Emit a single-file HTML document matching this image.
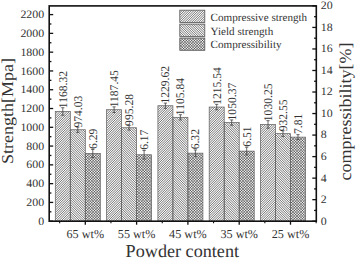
<!DOCTYPE html>
<html><head><meta charset="utf-8"><style>
html,body{margin:0;padding:0;background:#fff;width:357px;height:259px;overflow:hidden}
svg{display:block}
text{font-family:"Liberation Serif",serif;text-rendering:geometricPrecision}
</style></head><body>
<svg width="357" height="259" viewBox="0 0 357 259">
<defs><pattern id="pK" patternUnits="userSpaceOnUse" x="0" y="0" width="2.7" height="2.7"><rect width="2.7" height="2.7" fill="#e8e8e8"/><rect width="1.35" height="1.35" fill="#7a7a7a"/><rect x="1.35" y="1.35" width="1.35" height="1.35" fill="#7a7a7a"/></pattern><pattern id="pC" patternUnits="userSpaceOnUse" width="2" height="2"><rect width="2" height="2" fill="#a4a4a4"/><rect width="1" height="1" fill="#6a6a6a"/><rect x="1" y="1" width="1" height="1" fill="#e4e4e4"/></pattern><clipPath id="cA"><rect x="55.30" y="111.48" width="15.00" height="109.72"/><rect x="106.60" y="109.69" width="15.00" height="111.51"/><rect x="157.90" y="105.73" width="15.00" height="115.47"/><rect x="209.20" y="107.05" width="15.00" height="114.15"/><rect x="260.50" y="124.45" width="15.00" height="96.75"/><rect x="179.80" y="10.20" width="25.00" height="12.30"/></clipPath><clipPath id="cB"><rect x="70.30" y="129.73" width="15.00" height="91.47"/><rect x="121.60" y="127.73" width="15.00" height="93.47"/><rect x="172.90" y="117.35" width="15.00" height="103.85"/><rect x="224.20" y="122.56" width="15.00" height="98.64"/><rect x="275.50" y="133.63" width="15.00" height="87.57"/><rect x="179.80" y="24.10" width="25.00" height="12.30"/></clipPath><clipPath id="cC"><rect x="85.30" y="153.49" width="15.00" height="67.71"/><rect x="136.60" y="154.78" width="15.00" height="66.42"/><rect x="187.90" y="153.17" width="15.00" height="68.03"/><rect x="239.20" y="151.12" width="15.00" height="70.08"/><rect x="290.50" y="137.13" width="15.00" height="84.07"/><rect x="179.80" y="38.00" width="25.00" height="12.30"/></clipPath></defs>
<rect width="357" height="259" fill="#fff"/>
<g clip-path="url(#cA)"><rect x="50" y="5" width="266" height="217" fill="#fafafa"/><path d="M-168.95,223.00L50.05,4.00M-166.60,223.00L52.40,4.00M-164.25,223.00L54.75,4.00M-161.90,223.00L57.10,4.00M-159.55,223.00L59.45,4.00M-157.20,223.00L61.80,4.00M-154.85,223.00L64.15,4.00M-152.50,223.00L66.50,4.00M-150.15,223.00L68.85,4.00M-147.80,223.00L71.20,4.00M-145.45,223.00L73.55,4.00M-143.10,223.00L75.90,4.00M-140.75,223.00L78.25,4.00M-138.40,223.00L80.60,4.00M-136.05,223.00L82.95,4.00M-133.70,223.00L85.30,4.00M-131.35,223.00L87.65,4.00M-129.00,223.00L90.00,4.00M-126.65,223.00L92.35,4.00M-124.30,223.00L94.70,4.00M-121.95,223.00L97.05,4.00M-119.60,223.00L99.40,4.00M-117.25,223.00L101.75,4.00M-114.90,223.00L104.10,4.00M-112.55,223.00L106.45,4.00M-110.20,223.00L108.80,4.00M-107.85,223.00L111.15,4.00M-105.50,223.00L113.50,4.00M-103.15,223.00L115.85,4.00M-100.80,223.00L118.20,4.00M-98.45,223.00L120.55,4.00M-96.10,223.00L122.90,4.00M-93.75,223.00L125.25,4.00M-91.40,223.00L127.60,4.00M-89.05,223.00L129.95,4.00M-86.70,223.00L132.30,4.00M-84.35,223.00L134.65,4.00M-82.00,223.00L137.00,4.00M-79.65,223.00L139.35,4.00M-77.30,223.00L141.70,4.00M-74.95,223.00L144.05,4.00M-72.60,223.00L146.40,4.00M-70.25,223.00L148.75,4.00M-67.90,223.00L151.10,4.00M-65.55,223.00L153.45,4.00M-63.20,223.00L155.80,4.00M-60.85,223.00L158.15,4.00M-58.50,223.00L160.50,4.00M-56.15,223.00L162.85,4.00M-53.80,223.00L165.20,4.00M-51.45,223.00L167.55,4.00M-49.10,223.00L169.90,4.00M-46.75,223.00L172.25,4.00M-44.40,223.00L174.60,4.00M-42.05,223.00L176.95,4.00M-39.70,223.00L179.30,4.00M-37.35,223.00L181.65,4.00M-35.00,223.00L184.00,4.00M-32.65,223.00L186.35,4.00M-30.30,223.00L188.70,4.00M-27.95,223.00L191.05,4.00M-25.60,223.00L193.40,4.00M-23.25,223.00L195.75,4.00M-20.90,223.00L198.10,4.00M-18.55,223.00L200.45,4.00M-16.20,223.00L202.80,4.00M-13.85,223.00L205.15,4.00M-11.50,223.00L207.50,4.00M-9.15,223.00L209.85,4.00M-6.80,223.00L212.20,4.00M-4.45,223.00L214.55,4.00M-2.10,223.00L216.90,4.00M0.25,223.00L219.25,4.00M2.60,223.00L221.60,4.00M4.95,223.00L223.95,4.00M7.30,223.00L226.30,4.00M9.65,223.00L228.65,4.00M12.00,223.00L231.00,4.00M14.35,223.00L233.35,4.00M16.70,223.00L235.70,4.00M19.05,223.00L238.05,4.00M21.40,223.00L240.40,4.00M23.75,223.00L242.75,4.00M26.10,223.00L245.10,4.00M28.45,223.00L247.45,4.00M30.80,223.00L249.80,4.00M33.15,223.00L252.15,4.00M35.50,223.00L254.50,4.00M37.85,223.00L256.85,4.00M40.20,223.00L259.20,4.00M42.55,223.00L261.55,4.00M44.90,223.00L263.90,4.00M47.25,223.00L266.25,4.00M49.60,223.00L268.60,4.00M51.95,223.00L270.95,4.00M54.30,223.00L273.30,4.00M56.65,223.00L275.65,4.00M59.00,223.00L278.00,4.00M61.35,223.00L280.35,4.00M63.70,223.00L282.70,4.00M66.05,223.00L285.05,4.00M68.40,223.00L287.40,4.00M70.75,223.00L289.75,4.00M73.10,223.00L292.10,4.00M75.45,223.00L294.45,4.00M77.80,223.00L296.80,4.00M80.15,223.00L299.15,4.00M82.50,223.00L301.50,4.00M84.85,223.00L303.85,4.00M87.20,223.00L306.20,4.00M89.55,223.00L308.55,4.00M91.90,223.00L310.90,4.00M94.25,223.00L313.25,4.00M96.60,223.00L315.60,4.00M98.95,223.00L317.95,4.00M101.30,223.00L320.30,4.00M103.65,223.00L322.65,4.00M106.00,223.00L325.00,4.00M108.35,223.00L327.35,4.00M110.70,223.00L329.70,4.00M113.05,223.00L332.05,4.00M115.40,223.00L334.40,4.00M117.75,223.00L336.75,4.00M120.10,223.00L339.10,4.00M122.45,223.00L341.45,4.00M124.80,223.00L343.80,4.00M127.15,223.00L346.15,4.00M129.50,223.00L348.50,4.00M131.85,223.00L350.85,4.00M134.20,223.00L353.20,4.00M136.55,223.00L355.55,4.00M138.90,223.00L357.90,4.00M141.25,223.00L360.25,4.00M143.60,223.00L362.60,4.00M145.95,223.00L364.95,4.00M148.30,223.00L367.30,4.00M150.65,223.00L369.65,4.00M153.00,223.00L372.00,4.00M155.35,223.00L374.35,4.00M157.70,223.00L376.70,4.00M160.05,223.00L379.05,4.00M162.40,223.00L381.40,4.00M164.75,223.00L383.75,4.00M167.10,223.00L386.10,4.00M169.45,223.00L388.45,4.00M171.80,223.00L390.80,4.00M174.15,223.00L393.15,4.00M176.50,223.00L395.50,4.00M178.85,223.00L397.85,4.00M181.20,223.00L400.20,4.00M183.55,223.00L402.55,4.00M185.90,223.00L404.90,4.00M188.25,223.00L407.25,4.00M190.60,223.00L409.60,4.00M192.95,223.00L411.95,4.00M195.30,223.00L414.30,4.00M197.65,223.00L416.65,4.00M200.00,223.00L419.00,4.00M202.35,223.00L421.35,4.00M204.70,223.00L423.70,4.00M207.05,223.00L426.05,4.00M209.40,223.00L428.40,4.00M211.75,223.00L430.75,4.00M214.10,223.00L433.10,4.00M216.45,223.00L435.45,4.00M218.80,223.00L437.80,4.00M221.15,223.00L440.15,4.00M223.50,223.00L442.50,4.00M225.85,223.00L444.85,4.00M228.20,223.00L447.20,4.00M230.55,223.00L449.55,4.00M232.90,223.00L451.90,4.00M235.25,223.00L454.25,4.00M237.60,223.00L456.60,4.00M239.95,223.00L458.95,4.00M242.30,223.00L461.30,4.00M244.65,223.00L463.65,4.00M247.00,223.00L466.00,4.00M249.35,223.00L468.35,4.00M251.70,223.00L470.70,4.00M254.05,223.00L473.05,4.00M256.40,223.00L475.40,4.00M258.75,223.00L477.75,4.00M261.10,223.00L480.10,4.00M263.45,223.00L482.45,4.00M265.80,223.00L484.80,4.00M268.15,223.00L487.15,4.00M270.50,223.00L489.50,4.00M272.85,223.00L491.85,4.00M275.20,223.00L494.20,4.00M277.55,223.00L496.55,4.00M279.90,223.00L498.90,4.00M282.25,223.00L501.25,4.00M284.60,223.00L503.60,4.00M286.95,223.00L505.95,4.00M289.30,223.00L508.30,4.00M291.65,223.00L510.65,4.00M294.00,223.00L513.00,4.00M296.35,223.00L515.35,4.00M298.70,223.00L517.70,4.00M301.05,223.00L520.05,4.00M303.40,223.00L522.40,4.00M305.75,223.00L524.75,4.00M308.10,223.00L527.10,4.00M310.45,223.00L529.45,4.00M312.80,223.00L531.80,4.00M315.15,223.00L534.15,4.00" stroke="#555555" stroke-width="0.8" fill="none"/></g>
<g clip-path="url(#cB)"><rect x="50" y="5" width="266" height="217" fill="#fafafa"/><path d="M-169.90,4.00L49.10,223.00M-167.55,4.00L51.45,223.00M-165.20,4.00L53.80,223.00M-162.85,4.00L56.15,223.00M-160.50,4.00L58.50,223.00M-158.15,4.00L60.85,223.00M-155.80,4.00L63.20,223.00M-153.45,4.00L65.55,223.00M-151.10,4.00L67.90,223.00M-148.75,4.00L70.25,223.00M-146.40,4.00L72.60,223.00M-144.05,4.00L74.95,223.00M-141.70,4.00L77.30,223.00M-139.35,4.00L79.65,223.00M-137.00,4.00L82.00,223.00M-134.65,4.00L84.35,223.00M-132.30,4.00L86.70,223.00M-129.95,4.00L89.05,223.00M-127.60,4.00L91.40,223.00M-125.25,4.00L93.75,223.00M-122.90,4.00L96.10,223.00M-120.55,4.00L98.45,223.00M-118.20,4.00L100.80,223.00M-115.85,4.00L103.15,223.00M-113.50,4.00L105.50,223.00M-111.15,4.00L107.85,223.00M-108.80,4.00L110.20,223.00M-106.45,4.00L112.55,223.00M-104.10,4.00L114.90,223.00M-101.75,4.00L117.25,223.00M-99.40,4.00L119.60,223.00M-97.05,4.00L121.95,223.00M-94.70,4.00L124.30,223.00M-92.35,4.00L126.65,223.00M-90.00,4.00L129.00,223.00M-87.65,4.00L131.35,223.00M-85.30,4.00L133.70,223.00M-82.95,4.00L136.05,223.00M-80.60,4.00L138.40,223.00M-78.25,4.00L140.75,223.00M-75.90,4.00L143.10,223.00M-73.55,4.00L145.45,223.00M-71.20,4.00L147.80,223.00M-68.85,4.00L150.15,223.00M-66.50,4.00L152.50,223.00M-64.15,4.00L154.85,223.00M-61.80,4.00L157.20,223.00M-59.45,4.00L159.55,223.00M-57.10,4.00L161.90,223.00M-54.75,4.00L164.25,223.00M-52.40,4.00L166.60,223.00M-50.05,4.00L168.95,223.00M-47.70,4.00L171.30,223.00M-45.35,4.00L173.65,223.00M-43.00,4.00L176.00,223.00M-40.65,4.00L178.35,223.00M-38.30,4.00L180.70,223.00M-35.95,4.00L183.05,223.00M-33.60,4.00L185.40,223.00M-31.25,4.00L187.75,223.00M-28.90,4.00L190.10,223.00M-26.55,4.00L192.45,223.00M-24.20,4.00L194.80,223.00M-21.85,4.00L197.15,223.00M-19.50,4.00L199.50,223.00M-17.15,4.00L201.85,223.00M-14.80,4.00L204.20,223.00M-12.45,4.00L206.55,223.00M-10.10,4.00L208.90,223.00M-7.75,4.00L211.25,223.00M-5.40,4.00L213.60,223.00M-3.05,4.00L215.95,223.00M-0.70,4.00L218.30,223.00M1.65,4.00L220.65,223.00M4.00,4.00L223.00,223.00M6.35,4.00L225.35,223.00M8.70,4.00L227.70,223.00M11.05,4.00L230.05,223.00M13.40,4.00L232.40,223.00M15.75,4.00L234.75,223.00M18.10,4.00L237.10,223.00M20.45,4.00L239.45,223.00M22.80,4.00L241.80,223.00M25.15,4.00L244.15,223.00M27.50,4.00L246.50,223.00M29.85,4.00L248.85,223.00M32.20,4.00L251.20,223.00M34.55,4.00L253.55,223.00M36.90,4.00L255.90,223.00M39.25,4.00L258.25,223.00M41.60,4.00L260.60,223.00M43.95,4.00L262.95,223.00M46.30,4.00L265.30,223.00M48.65,4.00L267.65,223.00M51.00,4.00L270.00,223.00M53.35,4.00L272.35,223.00M55.70,4.00L274.70,223.00M58.05,4.00L277.05,223.00M60.40,4.00L279.40,223.00M62.75,4.00L281.75,223.00M65.10,4.00L284.10,223.00M67.45,4.00L286.45,223.00M69.80,4.00L288.80,223.00M72.15,4.00L291.15,223.00M74.50,4.00L293.50,223.00M76.85,4.00L295.85,223.00M79.20,4.00L298.20,223.00M81.55,4.00L300.55,223.00M83.90,4.00L302.90,223.00M86.25,4.00L305.25,223.00M88.60,4.00L307.60,223.00M90.95,4.00L309.95,223.00M93.30,4.00L312.30,223.00M95.65,4.00L314.65,223.00M98.00,4.00L317.00,223.00M100.35,4.00L319.35,223.00M102.70,4.00L321.70,223.00M105.05,4.00L324.05,223.00M107.40,4.00L326.40,223.00M109.75,4.00L328.75,223.00M112.10,4.00L331.10,223.00M114.45,4.00L333.45,223.00M116.80,4.00L335.80,223.00M119.15,4.00L338.15,223.00M121.50,4.00L340.50,223.00M123.85,4.00L342.85,223.00M126.20,4.00L345.20,223.00M128.55,4.00L347.55,223.00M130.90,4.00L349.90,223.00M133.25,4.00L352.25,223.00M135.60,4.00L354.60,223.00M137.95,4.00L356.95,223.00M140.30,4.00L359.30,223.00M142.65,4.00L361.65,223.00M145.00,4.00L364.00,223.00M147.35,4.00L366.35,223.00M149.70,4.00L368.70,223.00M152.05,4.00L371.05,223.00M154.40,4.00L373.40,223.00M156.75,4.00L375.75,223.00M159.10,4.00L378.10,223.00M161.45,4.00L380.45,223.00M163.80,4.00L382.80,223.00M166.15,4.00L385.15,223.00M168.50,4.00L387.50,223.00M170.85,4.00L389.85,223.00M173.20,4.00L392.20,223.00M175.55,4.00L394.55,223.00M177.90,4.00L396.90,223.00M180.25,4.00L399.25,223.00M182.60,4.00L401.60,223.00M184.95,4.00L403.95,223.00M187.30,4.00L406.30,223.00M189.65,4.00L408.65,223.00M192.00,4.00L411.00,223.00M194.35,4.00L413.35,223.00M196.70,4.00L415.70,223.00M199.05,4.00L418.05,223.00M201.40,4.00L420.40,223.00M203.75,4.00L422.75,223.00M206.10,4.00L425.10,223.00M208.45,4.00L427.45,223.00M210.80,4.00L429.80,223.00M213.15,4.00L432.15,223.00M215.50,4.00L434.50,223.00M217.85,4.00L436.85,223.00M220.20,4.00L439.20,223.00M222.55,4.00L441.55,223.00M224.90,4.00L443.90,223.00M227.25,4.00L446.25,223.00M229.60,4.00L448.60,223.00M231.95,4.00L450.95,223.00M234.30,4.00L453.30,223.00M236.65,4.00L455.65,223.00M239.00,4.00L458.00,223.00M241.35,4.00L460.35,223.00M243.70,4.00L462.70,223.00M246.05,4.00L465.05,223.00M248.40,4.00L467.40,223.00M250.75,4.00L469.75,223.00M253.10,4.00L472.10,223.00M255.45,4.00L474.45,223.00M257.80,4.00L476.80,223.00M260.15,4.00L479.15,223.00M262.50,4.00L481.50,223.00M264.85,4.00L483.85,223.00M267.20,4.00L486.20,223.00M269.55,4.00L488.55,223.00M271.90,4.00L490.90,223.00M274.25,4.00L493.25,223.00M276.60,4.00L495.60,223.00M278.95,4.00L497.95,223.00M281.30,4.00L500.30,223.00M283.65,4.00L502.65,223.00M286.00,4.00L505.00,223.00M288.35,4.00L507.35,223.00M290.70,4.00L509.70,223.00M293.05,4.00L512.05,223.00M295.40,4.00L514.40,223.00M297.75,4.00L516.75,223.00M300.10,4.00L519.10,223.00M302.45,4.00L521.45,223.00M304.80,4.00L523.80,223.00M307.15,4.00L526.15,223.00M309.50,4.00L528.50,223.00M311.85,4.00L530.85,223.00M314.20,4.00L533.20,223.00M316.55,4.00L535.55,223.00" stroke="#555555" stroke-width="0.8" fill="none"/></g>
<g clip-path="url(#cC)"><rect x="48" y="4" width="270" height="220" fill="#f0f0f0"/><path d="M-169.00,223.00L50.00,4.00M-166.30,223.00L52.70,4.00M-163.60,223.00L55.40,4.00M-160.90,223.00L58.10,4.00M-158.20,223.00L60.80,4.00M-155.50,223.00L63.50,4.00M-152.80,223.00L66.20,4.00M-150.10,223.00L68.90,4.00M-147.40,223.00L71.60,4.00M-144.70,223.00L74.30,4.00M-142.00,223.00L77.00,4.00M-139.30,223.00L79.70,4.00M-136.60,223.00L82.40,4.00M-133.90,223.00L85.10,4.00M-131.20,223.00L87.80,4.00M-128.50,223.00L90.50,4.00M-125.80,223.00L93.20,4.00M-123.10,223.00L95.90,4.00M-120.40,223.00L98.60,4.00M-117.70,223.00L101.30,4.00M-115.00,223.00L104.00,4.00M-112.30,223.00L106.70,4.00M-109.60,223.00L109.40,4.00M-106.90,223.00L112.10,4.00M-104.20,223.00L114.80,4.00M-101.50,223.00L117.50,4.00M-98.80,223.00L120.20,4.00M-96.10,223.00L122.90,4.00M-93.40,223.00L125.60,4.00M-90.70,223.00L128.30,4.00M-88.00,223.00L131.00,4.00M-85.30,223.00L133.70,4.00M-82.60,223.00L136.40,4.00M-79.90,223.00L139.10,4.00M-77.20,223.00L141.80,4.00M-74.50,223.00L144.50,4.00M-71.80,223.00L147.20,4.00M-69.10,223.00L149.90,4.00M-66.40,223.00L152.60,4.00M-63.70,223.00L155.30,4.00M-61.00,223.00L158.00,4.00M-58.30,223.00L160.70,4.00M-55.60,223.00L163.40,4.00M-52.90,223.00L166.10,4.00M-50.20,223.00L168.80,4.00M-47.50,223.00L171.50,4.00M-44.80,223.00L174.20,4.00M-42.10,223.00L176.90,4.00M-39.40,223.00L179.60,4.00M-36.70,223.00L182.30,4.00M-34.00,223.00L185.00,4.00M-31.30,223.00L187.70,4.00M-28.60,223.00L190.40,4.00M-25.90,223.00L193.10,4.00M-23.20,223.00L195.80,4.00M-20.50,223.00L198.50,4.00M-17.80,223.00L201.20,4.00M-15.10,223.00L203.90,4.00M-12.40,223.00L206.60,4.00M-9.70,223.00L209.30,4.00M-7.00,223.00L212.00,4.00M-4.30,223.00L214.70,4.00M-1.60,223.00L217.40,4.00M1.10,223.00L220.10,4.00M3.80,223.00L222.80,4.00M6.50,223.00L225.50,4.00M9.20,223.00L228.20,4.00M11.90,223.00L230.90,4.00M14.60,223.00L233.60,4.00M17.30,223.00L236.30,4.00M20.00,223.00L239.00,4.00M22.70,223.00L241.70,4.00M25.40,223.00L244.40,4.00M28.10,223.00L247.10,4.00M30.80,223.00L249.80,4.00M33.50,223.00L252.50,4.00M36.20,223.00L255.20,4.00M38.90,223.00L257.90,4.00M41.60,223.00L260.60,4.00M44.30,223.00L263.30,4.00M47.00,223.00L266.00,4.00M49.70,223.00L268.70,4.00M52.40,223.00L271.40,4.00M55.10,223.00L274.10,4.00M57.80,223.00L276.80,4.00M60.50,223.00L279.50,4.00M63.20,223.00L282.20,4.00M65.90,223.00L284.90,4.00M68.60,223.00L287.60,4.00M71.30,223.00L290.30,4.00M74.00,223.00L293.00,4.00M76.70,223.00L295.70,4.00M79.40,223.00L298.40,4.00M82.10,223.00L301.10,4.00M84.80,223.00L303.80,4.00M87.50,223.00L306.50,4.00M90.20,223.00L309.20,4.00M92.90,223.00L311.90,4.00M95.60,223.00L314.60,4.00M98.30,223.00L317.30,4.00M101.00,223.00L320.00,4.00M103.70,223.00L322.70,4.00M106.40,223.00L325.40,4.00M109.10,223.00L328.10,4.00M111.80,223.00L330.80,4.00M114.50,223.00L333.50,4.00M117.20,223.00L336.20,4.00M119.90,223.00L338.90,4.00M122.60,223.00L341.60,4.00M125.30,223.00L344.30,4.00M128.00,223.00L347.00,4.00M130.70,223.00L349.70,4.00M133.40,223.00L352.40,4.00M136.10,223.00L355.10,4.00M138.80,223.00L357.80,4.00M141.50,223.00L360.50,4.00M144.20,223.00L363.20,4.00M146.90,223.00L365.90,4.00M149.60,223.00L368.60,4.00M152.30,223.00L371.30,4.00M155.00,223.00L374.00,4.00M157.70,223.00L376.70,4.00M160.40,223.00L379.40,4.00M163.10,223.00L382.10,4.00M165.80,223.00L384.80,4.00M168.50,223.00L387.50,4.00M171.20,223.00L390.20,4.00M173.90,223.00L392.90,4.00M176.60,223.00L395.60,4.00M179.30,223.00L398.30,4.00M182.00,223.00L401.00,4.00M184.70,223.00L403.70,4.00M187.40,223.00L406.40,4.00M190.10,223.00L409.10,4.00M192.80,223.00L411.80,4.00M195.50,223.00L414.50,4.00M198.20,223.00L417.20,4.00M200.90,223.00L419.90,4.00M203.60,223.00L422.60,4.00M206.30,223.00L425.30,4.00M209.00,223.00L428.00,4.00M211.70,223.00L430.70,4.00M214.40,223.00L433.40,4.00M217.10,223.00L436.10,4.00M219.80,223.00L438.80,4.00M222.50,223.00L441.50,4.00M225.20,223.00L444.20,4.00M227.90,223.00L446.90,4.00M230.60,223.00L449.60,4.00M233.30,223.00L452.30,4.00M236.00,223.00L455.00,4.00M238.70,223.00L457.70,4.00M241.40,223.00L460.40,4.00M244.10,223.00L463.10,4.00M246.80,223.00L465.80,4.00M249.50,223.00L468.50,4.00M252.20,223.00L471.20,4.00M254.90,223.00L473.90,4.00M257.60,223.00L476.60,4.00M260.30,223.00L479.30,4.00M263.00,223.00L482.00,4.00M265.70,223.00L484.70,4.00M268.40,223.00L487.40,4.00M271.10,223.00L490.10,4.00M273.80,223.00L492.80,4.00M276.50,223.00L495.50,4.00M279.20,223.00L498.20,4.00M281.90,223.00L500.90,4.00M284.60,223.00L503.60,4.00M287.30,223.00L506.30,4.00M290.00,223.00L509.00,4.00M292.70,223.00L511.70,4.00M295.40,223.00L514.40,4.00M298.10,223.00L517.10,4.00M300.80,223.00L519.80,4.00M303.50,223.00L522.50,4.00M306.20,223.00L525.20,4.00M308.90,223.00L527.90,4.00M311.60,223.00L530.60,4.00M314.30,223.00L533.30,4.00M317.00,223.00L536.00,4.00M-168.80,4.00L50.20,223.00M-166.10,4.00L52.90,223.00M-163.40,4.00L55.60,223.00M-160.70,4.00L58.30,223.00M-158.00,4.00L61.00,223.00M-155.30,4.00L63.70,223.00M-152.60,4.00L66.40,223.00M-149.90,4.00L69.10,223.00M-147.20,4.00L71.80,223.00M-144.50,4.00L74.50,223.00M-141.80,4.00L77.20,223.00M-139.10,4.00L79.90,223.00M-136.40,4.00L82.60,223.00M-133.70,4.00L85.30,223.00M-131.00,4.00L88.00,223.00M-128.30,4.00L90.70,223.00M-125.60,4.00L93.40,223.00M-122.90,4.00L96.10,223.00M-120.20,4.00L98.80,223.00M-117.50,4.00L101.50,223.00M-114.80,4.00L104.20,223.00M-112.10,4.00L106.90,223.00M-109.40,4.00L109.60,223.00M-106.70,4.00L112.30,223.00M-104.00,4.00L115.00,223.00M-101.30,4.00L117.70,223.00M-98.60,4.00L120.40,223.00M-95.90,4.00L123.10,223.00M-93.20,4.00L125.80,223.00M-90.50,4.00L128.50,223.00M-87.80,4.00L131.20,223.00M-85.10,4.00L133.90,223.00M-82.40,4.00L136.60,223.00M-79.70,4.00L139.30,223.00M-77.00,4.00L142.00,223.00M-74.30,4.00L144.70,223.00M-71.60,4.00L147.40,223.00M-68.90,4.00L150.10,223.00M-66.20,4.00L152.80,223.00M-63.50,4.00L155.50,223.00M-60.80,4.00L158.20,223.00M-58.10,4.00L160.90,223.00M-55.40,4.00L163.60,223.00M-52.70,4.00L166.30,223.00M-50.00,4.00L169.00,223.00M-47.30,4.00L171.70,223.00M-44.60,4.00L174.40,223.00M-41.90,4.00L177.10,223.00M-39.20,4.00L179.80,223.00M-36.50,4.00L182.50,223.00M-33.80,4.00L185.20,223.00M-31.10,4.00L187.90,223.00M-28.40,4.00L190.60,223.00M-25.70,4.00L193.30,223.00M-23.00,4.00L196.00,223.00M-20.30,4.00L198.70,223.00M-17.60,4.00L201.40,223.00M-14.90,4.00L204.10,223.00M-12.20,4.00L206.80,223.00M-9.50,4.00L209.50,223.00M-6.80,4.00L212.20,223.00M-4.10,4.00L214.90,223.00M-1.40,4.00L217.60,223.00M1.30,4.00L220.30,223.00M4.00,4.00L223.00,223.00M6.70,4.00L225.70,223.00M9.40,4.00L228.40,223.00M12.10,4.00L231.10,223.00M14.80,4.00L233.80,223.00M17.50,4.00L236.50,223.00M20.20,4.00L239.20,223.00M22.90,4.00L241.90,223.00M25.60,4.00L244.60,223.00M28.30,4.00L247.30,223.00M31.00,4.00L250.00,223.00M33.70,4.00L252.70,223.00M36.40,4.00L255.40,223.00M39.10,4.00L258.10,223.00M41.80,4.00L260.80,223.00M44.50,4.00L263.50,223.00M47.20,4.00L266.20,223.00M49.90,4.00L268.90,223.00M52.60,4.00L271.60,223.00M55.30,4.00L274.30,223.00M58.00,4.00L277.00,223.00M60.70,4.00L279.70,223.00M63.40,4.00L282.40,223.00M66.10,4.00L285.10,223.00M68.80,4.00L287.80,223.00M71.50,4.00L290.50,223.00M74.20,4.00L293.20,223.00M76.90,4.00L295.90,223.00M79.60,4.00L298.60,223.00M82.30,4.00L301.30,223.00M85.00,4.00L304.00,223.00M87.70,4.00L306.70,223.00M90.40,4.00L309.40,223.00M93.10,4.00L312.10,223.00M95.80,4.00L314.80,223.00M98.50,4.00L317.50,223.00M101.20,4.00L320.20,223.00M103.90,4.00L322.90,223.00M106.60,4.00L325.60,223.00M109.30,4.00L328.30,223.00M112.00,4.00L331.00,223.00M114.70,4.00L333.70,223.00M117.40,4.00L336.40,223.00M120.10,4.00L339.10,223.00M122.80,4.00L341.80,223.00M125.50,4.00L344.50,223.00M128.20,4.00L347.20,223.00M130.90,4.00L349.90,223.00M133.60,4.00L352.60,223.00M136.30,4.00L355.30,223.00M139.00,4.00L358.00,223.00M141.70,4.00L360.70,223.00M144.40,4.00L363.40,223.00M147.10,4.00L366.10,223.00M149.80,4.00L368.80,223.00M152.50,4.00L371.50,223.00M155.20,4.00L374.20,223.00M157.90,4.00L376.90,223.00M160.60,4.00L379.60,223.00M163.30,4.00L382.30,223.00M166.00,4.00L385.00,223.00M168.70,4.00L387.70,223.00M171.40,4.00L390.40,223.00M174.10,4.00L393.10,223.00M176.80,4.00L395.80,223.00M179.50,4.00L398.50,223.00M182.20,4.00L401.20,223.00M184.90,4.00L403.90,223.00M187.60,4.00L406.60,223.00M190.30,4.00L409.30,223.00M193.00,4.00L412.00,223.00M195.70,4.00L414.70,223.00M198.40,4.00L417.40,223.00M201.10,4.00L420.10,223.00M203.80,4.00L422.80,223.00M206.50,4.00L425.50,223.00M209.20,4.00L428.20,223.00M211.90,4.00L430.90,223.00M214.60,4.00L433.60,223.00M217.30,4.00L436.30,223.00M220.00,4.00L439.00,223.00M222.70,4.00L441.70,223.00M225.40,4.00L444.40,223.00M228.10,4.00L447.10,223.00M230.80,4.00L449.80,223.00M233.50,4.00L452.50,223.00M236.20,4.00L455.20,223.00M238.90,4.00L457.90,223.00M241.60,4.00L460.60,223.00M244.30,4.00L463.30,223.00M247.00,4.00L466.00,223.00M249.70,4.00L468.70,223.00M252.40,4.00L471.40,223.00M255.10,4.00L474.10,223.00M257.80,4.00L476.80,223.00M260.50,4.00L479.50,223.00M263.20,4.00L482.20,223.00M265.90,4.00L484.90,223.00M268.60,4.00L487.60,223.00M271.30,4.00L490.30,223.00M274.00,4.00L493.00,223.00M276.70,4.00L495.70,223.00M279.40,4.00L498.40,223.00M282.10,4.00L501.10,223.00M284.80,4.00L503.80,223.00M287.50,4.00L506.50,223.00M290.20,4.00L509.20,223.00M292.90,4.00L511.90,223.00M295.60,4.00L514.60,223.00M298.30,4.00L517.30,223.00M301.00,4.00L520.00,223.00M303.70,4.00L522.70,223.00M306.40,4.00L525.40,223.00M309.10,4.00L528.10,223.00M311.80,4.00L530.80,223.00M314.50,4.00L533.50,223.00M317.20,4.00L536.20,223.00" stroke="#000000" stroke-opacity="0.5" stroke-width="0.9" fill="none"/></g>
<rect x="55.30" y="111.48" width="15.0" height="109.72" fill="none" stroke="#666" stroke-width="0.75"/>
<path d="M62.80,107.73 V115.24 M61.20,107.73 H64.40 M61.20,115.24 H64.40" stroke="#444" stroke-width="0.8" fill="none"/>
<rect x="70.30" y="129.73" width="15.0" height="91.47" fill="none" stroke="#666" stroke-width="0.75"/>
<path d="M77.80,127.10 V132.36 M76.20,127.10 H79.40 M76.20,132.36 H79.40" stroke="#444" stroke-width="0.8" fill="none"/>
<rect x="85.30" y="153.49" width="15.0" height="67.71" fill="none" stroke="#666" stroke-width="0.75"/>
<path d="M92.80,149.51 V157.47 M91.20,149.51 H94.40 M91.20,157.47 H94.40" stroke="#444" stroke-width="0.8" fill="none"/>
<rect x="106.60" y="109.69" width="15.0" height="111.51" fill="none" stroke="#666" stroke-width="0.75"/>
<path d="M114.10,106.87 V112.50 M112.50,106.87 H115.70 M112.50,112.50 H115.70" stroke="#444" stroke-width="0.8" fill="none"/>
<rect x="121.60" y="127.73" width="15.0" height="93.47" fill="none" stroke="#666" stroke-width="0.75"/>
<path d="M129.10,125.39 V130.08 M127.50,125.39 H130.70 M127.50,130.08 H130.70" stroke="#444" stroke-width="0.8" fill="none"/>
<rect x="136.60" y="154.78" width="15.0" height="66.42" fill="none" stroke="#666" stroke-width="0.75"/>
<path d="M144.10,150.47 V159.09 M142.50,150.47 H145.70 M142.50,159.09 H145.70" stroke="#444" stroke-width="0.8" fill="none"/>
<rect x="157.90" y="105.73" width="15.0" height="115.47" fill="none" stroke="#666" stroke-width="0.75"/>
<path d="M165.40,103.10 V108.36 M163.80,103.10 H167.00 M163.80,108.36 H167.00" stroke="#444" stroke-width="0.8" fill="none"/>
<rect x="172.90" y="117.35" width="15.0" height="103.85" fill="none" stroke="#666" stroke-width="0.75"/>
<path d="M180.40,114.72 V119.98 M178.80,114.72 H182.00 M178.80,119.98 H182.00" stroke="#444" stroke-width="0.8" fill="none"/>
<rect x="187.90" y="153.17" width="15.0" height="68.03" fill="none" stroke="#666" stroke-width="0.75"/>
<path d="M195.40,149.94 V156.39 M193.80,149.94 H197.00 M193.80,156.39 H197.00" stroke="#444" stroke-width="0.8" fill="none"/>
<rect x="209.20" y="107.05" width="15.0" height="114.15" fill="none" stroke="#666" stroke-width="0.75"/>
<path d="M216.70,104.33 V109.77 M215.10,104.33 H218.30 M215.10,109.77 H218.30" stroke="#444" stroke-width="0.8" fill="none"/>
<rect x="224.20" y="122.56" width="15.0" height="98.64" fill="none" stroke="#666" stroke-width="0.75"/>
<path d="M231.70,119.93 V125.19 M230.10,119.93 H233.30 M230.10,125.19 H233.30" stroke="#444" stroke-width="0.8" fill="none"/>
<rect x="239.20" y="151.12" width="15.0" height="70.08" fill="none" stroke="#666" stroke-width="0.75"/>
<path d="M246.70,147.24 V155.00 M245.10,147.24 H248.30 M245.10,155.00 H248.30" stroke="#444" stroke-width="0.8" fill="none"/>
<rect x="260.50" y="124.45" width="15.0" height="96.75" fill="none" stroke="#666" stroke-width="0.75"/>
<path d="M268.00,120.69 V128.21 M266.40,120.69 H269.60 M266.40,128.21 H269.60" stroke="#444" stroke-width="0.8" fill="none"/>
<rect x="275.50" y="133.63" width="15.0" height="87.57" fill="none" stroke="#666" stroke-width="0.75"/>
<path d="M283.00,130.81 V136.44 M281.40,130.81 H284.60 M281.40,136.44 H284.60" stroke="#444" stroke-width="0.8" fill="none"/>
<rect x="290.50" y="137.13" width="15.0" height="84.07" fill="none" stroke="#666" stroke-width="0.75"/>
<path d="M298.00,134.65 V139.60 M296.40,134.65 H299.60 M296.40,139.60 H299.60" stroke="#444" stroke-width="0.8" fill="none"/>
<rect x="49.20" y="5.90" width="267.10" height="215.30" fill="none" stroke="#111" stroke-width="1.6"/>
<line x1="49.20" y1="221.20" x2="53.20" y2="221.20" stroke="#111" stroke-width="1.3"/>
<line x1="49.20" y1="211.81" x2="51.40" y2="211.81" stroke="#111" stroke-width="1.3"/>
<line x1="49.20" y1="202.42" x2="53.20" y2="202.42" stroke="#111" stroke-width="1.3"/>
<line x1="49.20" y1="193.03" x2="51.40" y2="193.03" stroke="#111" stroke-width="1.3"/>
<line x1="49.20" y1="183.64" x2="53.20" y2="183.64" stroke="#111" stroke-width="1.3"/>
<line x1="49.20" y1="174.25" x2="51.40" y2="174.25" stroke="#111" stroke-width="1.3"/>
<line x1="49.20" y1="164.85" x2="53.20" y2="164.85" stroke="#111" stroke-width="1.3"/>
<line x1="49.20" y1="155.46" x2="51.40" y2="155.46" stroke="#111" stroke-width="1.3"/>
<line x1="49.20" y1="146.07" x2="53.20" y2="146.07" stroke="#111" stroke-width="1.3"/>
<line x1="49.20" y1="136.68" x2="51.40" y2="136.68" stroke="#111" stroke-width="1.3"/>
<line x1="49.20" y1="127.29" x2="53.20" y2="127.29" stroke="#111" stroke-width="1.3"/>
<line x1="49.20" y1="117.90" x2="51.40" y2="117.90" stroke="#111" stroke-width="1.3"/>
<line x1="49.20" y1="108.51" x2="53.20" y2="108.51" stroke="#111" stroke-width="1.3"/>
<line x1="49.20" y1="99.12" x2="51.40" y2="99.12" stroke="#111" stroke-width="1.3"/>
<line x1="49.20" y1="89.73" x2="53.20" y2="89.73" stroke="#111" stroke-width="1.3"/>
<line x1="49.20" y1="80.34" x2="51.40" y2="80.34" stroke="#111" stroke-width="1.3"/>
<line x1="49.20" y1="70.95" x2="53.20" y2="70.95" stroke="#111" stroke-width="1.3"/>
<line x1="49.20" y1="61.55" x2="51.40" y2="61.55" stroke="#111" stroke-width="1.3"/>
<line x1="49.20" y1="52.16" x2="53.20" y2="52.16" stroke="#111" stroke-width="1.3"/>
<line x1="49.20" y1="42.77" x2="51.40" y2="42.77" stroke="#111" stroke-width="1.3"/>
<line x1="49.20" y1="33.38" x2="53.20" y2="33.38" stroke="#111" stroke-width="1.3"/>
<line x1="49.20" y1="23.99" x2="51.40" y2="23.99" stroke="#111" stroke-width="1.3"/>
<line x1="49.20" y1="14.60" x2="53.20" y2="14.60" stroke="#111" stroke-width="1.3"/>
<line x1="316.30" y1="221.20" x2="312.30" y2="221.20" stroke="#111" stroke-width="1.3"/>
<line x1="316.30" y1="210.44" x2="314.10" y2="210.44" stroke="#111" stroke-width="1.3"/>
<line x1="316.30" y1="199.67" x2="312.30" y2="199.67" stroke="#111" stroke-width="1.3"/>
<line x1="316.30" y1="188.91" x2="314.10" y2="188.91" stroke="#111" stroke-width="1.3"/>
<line x1="316.30" y1="178.14" x2="312.30" y2="178.14" stroke="#111" stroke-width="1.3"/>
<line x1="316.30" y1="167.38" x2="314.10" y2="167.38" stroke="#111" stroke-width="1.3"/>
<line x1="316.30" y1="156.61" x2="312.30" y2="156.61" stroke="#111" stroke-width="1.3"/>
<line x1="316.30" y1="145.84" x2="314.10" y2="145.84" stroke="#111" stroke-width="1.3"/>
<line x1="316.30" y1="135.08" x2="312.30" y2="135.08" stroke="#111" stroke-width="1.3"/>
<line x1="316.30" y1="124.31" x2="314.10" y2="124.31" stroke="#111" stroke-width="1.3"/>
<line x1="316.30" y1="113.55" x2="312.30" y2="113.55" stroke="#111" stroke-width="1.3"/>
<line x1="316.30" y1="102.78" x2="314.10" y2="102.78" stroke="#111" stroke-width="1.3"/>
<line x1="316.30" y1="92.02" x2="312.30" y2="92.02" stroke="#111" stroke-width="1.3"/>
<line x1="316.30" y1="81.25" x2="314.10" y2="81.25" stroke="#111" stroke-width="1.3"/>
<line x1="316.30" y1="70.49" x2="312.30" y2="70.49" stroke="#111" stroke-width="1.3"/>
<line x1="316.30" y1="59.72" x2="314.10" y2="59.72" stroke="#111" stroke-width="1.3"/>
<line x1="316.30" y1="48.96" x2="312.30" y2="48.96" stroke="#111" stroke-width="1.3"/>
<line x1="316.30" y1="38.20" x2="314.10" y2="38.20" stroke="#111" stroke-width="1.3"/>
<line x1="316.30" y1="27.43" x2="312.30" y2="27.43" stroke="#111" stroke-width="1.3"/>
<line x1="316.30" y1="16.67" x2="314.10" y2="16.67" stroke="#111" stroke-width="1.3"/>
<line x1="316.30" y1="5.90" x2="312.30" y2="5.90" stroke="#111" stroke-width="1.3"/>
<line x1="85.30" y1="221.20" x2="85.30" y2="224.70" stroke="#111" stroke-width="1.3"/>
<line x1="59.65" y1="221.20" x2="59.65" y2="223.20" stroke="#111" stroke-width="1.1"/>
<line x1="136.60" y1="221.20" x2="136.60" y2="224.70" stroke="#111" stroke-width="1.3"/>
<line x1="110.95" y1="221.20" x2="110.95" y2="223.20" stroke="#111" stroke-width="1.1"/>
<line x1="187.90" y1="221.20" x2="187.90" y2="224.70" stroke="#111" stroke-width="1.3"/>
<line x1="162.25" y1="221.20" x2="162.25" y2="223.20" stroke="#111" stroke-width="1.1"/>
<line x1="239.20" y1="221.20" x2="239.20" y2="224.70" stroke="#111" stroke-width="1.3"/>
<line x1="213.55" y1="221.20" x2="213.55" y2="223.20" stroke="#111" stroke-width="1.1"/>
<line x1="290.50" y1="221.20" x2="290.50" y2="224.70" stroke="#111" stroke-width="1.3"/>
<line x1="264.85" y1="221.20" x2="264.85" y2="223.20" stroke="#111" stroke-width="1.1"/>
<line x1="316.15" y1="221.20" x2="316.15" y2="223.20" stroke="#111" stroke-width="1.1"/>
<rect x="179.8" y="10.20" width="25" height="12.3" fill="none" stroke="#555" stroke-width="0.8"/>
<rect x="179.8" y="24.10" width="25" height="12.3" fill="none" stroke="#555" stroke-width="0.8"/>
<rect x="179.8" y="38.00" width="25" height="12.3" fill="none" stroke="#555" stroke-width="0.8"/>
<g><text font-family="Liberation Serif, serif" font-size="11.6" fill="#333" transform="translate(66.80,108.23) rotate(-90) scale(1,1.02)">1168.32</text><text font-family="Liberation Serif, serif" font-size="11.6" fill="#333" transform="translate(81.80,127.60) rotate(-90) scale(1,1.02)">974.03</text><text font-family="Liberation Serif, serif" font-size="11.6" fill="#333" transform="translate(96.80,148.91) rotate(-90) scale(1,1.02)">6.29</text><text font-family="Liberation Serif, serif" font-size="11.6" fill="#333" transform="translate(118.10,107.37) rotate(-90) scale(1,1.02)">1187.45</text><text font-family="Liberation Serif, serif" font-size="11.6" fill="#333" transform="translate(133.10,125.89) rotate(-90) scale(1,1.02)">995.28</text><text font-family="Liberation Serif, serif" font-size="11.6" fill="#333" transform="translate(148.10,149.87) rotate(-90) scale(1,1.02)">6.17</text><text font-family="Liberation Serif, serif" font-size="11.6" fill="#333" transform="translate(169.40,103.60) rotate(-90) scale(1,1.02)">1229.62</text><text font-family="Liberation Serif, serif" font-size="11.6" fill="#333" transform="translate(184.40,115.22) rotate(-90) scale(1,1.02)">1105.84</text><text font-family="Liberation Serif, serif" font-size="11.6" fill="#333" transform="translate(199.40,149.34) rotate(-90) scale(1,1.02)">6.32</text><text font-family="Liberation Serif, serif" font-size="11.6" fill="#333" transform="translate(220.70,104.83) rotate(-90) scale(1,1.02)">1215.54</text><text font-family="Liberation Serif, serif" font-size="11.6" fill="#333" transform="translate(235.70,120.43) rotate(-90) scale(1,1.02)">1050.37</text><text font-family="Liberation Serif, serif" font-size="11.6" fill="#333" transform="translate(250.70,146.64) rotate(-90) scale(1,1.02)">6.51</text><text font-family="Liberation Serif, serif" font-size="11.6" fill="#333" transform="translate(272.00,121.19) rotate(-90) scale(1,1.02)">1030.25</text><text font-family="Liberation Serif, serif" font-size="11.6" fill="#333" transform="translate(287.00,131.31) rotate(-90) scale(1,1.02)">932.55</text><text font-family="Liberation Serif, serif" font-size="11.6" fill="#333" transform="translate(302.00,134.05) rotate(-90) scale(1,1.02)">7.81</text><text font-family="Liberation Serif, serif" font-size="11.9" fill="#333" text-anchor="end" transform="translate(44.2,224.80) scale(1,0.95)">0</text><text font-family="Liberation Serif, serif" font-size="11.9" fill="#333" text-anchor="end" transform="translate(44.2,206.02) scale(1,0.95)">200</text><text font-family="Liberation Serif, serif" font-size="11.9" fill="#333" text-anchor="end" transform="translate(44.2,187.24) scale(1,0.95)">400</text><text font-family="Liberation Serif, serif" font-size="11.9" fill="#333" text-anchor="end" transform="translate(44.2,168.45) scale(1,0.95)">600</text><text font-family="Liberation Serif, serif" font-size="11.9" fill="#333" text-anchor="end" transform="translate(44.2,149.67) scale(1,0.95)">800</text><text font-family="Liberation Serif, serif" font-size="11.9" fill="#333" text-anchor="end" transform="translate(44.2,130.89) scale(1,0.95)">1000</text><text font-family="Liberation Serif, serif" font-size="11.9" fill="#333" text-anchor="end" transform="translate(44.2,112.11) scale(1,0.95)">1200</text><text font-family="Liberation Serif, serif" font-size="11.9" fill="#333" text-anchor="end" transform="translate(44.2,93.33) scale(1,0.95)">1400</text><text font-family="Liberation Serif, serif" font-size="11.9" fill="#333" text-anchor="end" transform="translate(44.2,74.55) scale(1,0.95)">1600</text><text font-family="Liberation Serif, serif" font-size="11.9" fill="#333" text-anchor="end" transform="translate(44.2,55.76) scale(1,0.95)">1800</text><text font-family="Liberation Serif, serif" font-size="11.9" fill="#333" text-anchor="end" transform="translate(44.2,36.98) scale(1,0.95)">2000</text><text font-family="Liberation Serif, serif" font-size="11.9" fill="#333" text-anchor="end" transform="translate(44.2,18.20) scale(1,0.95)">2200</text><text font-family="Liberation Serif, serif" font-size="11.9" fill="#333" transform="translate(320.8,224.60) scale(1,0.95)">0</text><text font-family="Liberation Serif, serif" font-size="11.9" fill="#333" transform="translate(320.8,203.07) scale(1,0.95)">2</text><text font-family="Liberation Serif, serif" font-size="11.9" fill="#333" transform="translate(320.8,181.54) scale(1,0.95)">4</text><text font-family="Liberation Serif, serif" font-size="11.9" fill="#333" transform="translate(320.8,160.01) scale(1,0.95)">6</text><text font-family="Liberation Serif, serif" font-size="11.9" fill="#333" transform="translate(320.8,138.48) scale(1,0.95)">8</text><text font-family="Liberation Serif, serif" font-size="11.9" fill="#333" transform="translate(320.8,116.95) scale(1,0.95)">10</text><text font-family="Liberation Serif, serif" font-size="11.9" fill="#333" transform="translate(320.8,95.42) scale(1,0.95)">12</text><text font-family="Liberation Serif, serif" font-size="11.9" fill="#333" transform="translate(320.8,73.89) scale(1,0.95)">14</text><text font-family="Liberation Serif, serif" font-size="11.9" fill="#333" transform="translate(320.8,52.36) scale(1,0.95)">16</text><text font-family="Liberation Serif, serif" font-size="11.9" fill="#333" transform="translate(320.8,30.83) scale(1,0.95)">18</text><text font-family="Liberation Serif, serif" font-size="11.9" fill="#333" transform="translate(320.8,9.30) scale(1,0.95)">20</text><text font-family="Liberation Serif, serif" font-size="12.2" fill="#333" text-anchor="middle" x="85.30" y="238.4">65 wt%</text><text font-family="Liberation Serif, serif" font-size="12.2" fill="#333" text-anchor="middle" x="136.60" y="238.4">55 wt%</text><text font-family="Liberation Serif, serif" font-size="12.2" fill="#333" text-anchor="middle" x="187.90" y="238.4">45 wt%</text><text font-family="Liberation Serif, serif" font-size="12.2" fill="#333" text-anchor="middle" x="239.20" y="238.4">35 wt%</text><text font-family="Liberation Serif, serif" font-size="12.2" fill="#333" text-anchor="middle" x="290.50" y="238.4">25 wt%</text><text font-family="Liberation Serif, serif" font-size="11.12" fill="#333" x="210.6" y="20.60">Compressive strength</text><text font-family="Liberation Serif, serif" font-size="11.12" fill="#333" x="210.6" y="34.50">Yield strength</text><text font-family="Liberation Serif, serif" font-size="11.12" fill="#333" x="210.6" y="48.40">Compressibility</text><text font-family="Liberation Serif, serif" font-size="18.16" fill="#333" x="125.6" y="257.4">Powder content</text><text font-family="Liberation Serif, serif" font-size="18" fill="#333" transform="translate(13.3,164) rotate(-90) scale(1,0.92)">Strength[Mpa]</text><text font-family="Liberation Serif, serif" font-size="18" fill="#333" transform="translate(351.4,180.5) rotate(-90) scale(1,0.94)">compressibility[%]</text></g>
</svg>
</body></html>
